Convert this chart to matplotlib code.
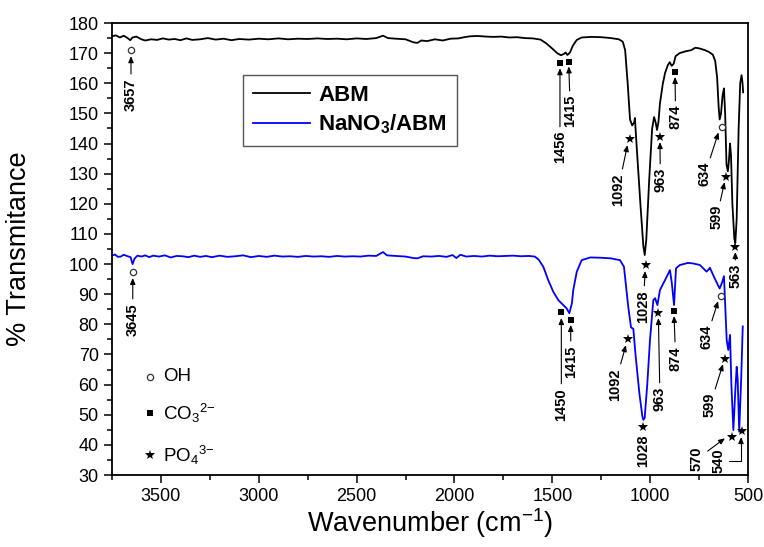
import numpy as np
import matplotlib.pyplot as plt
from matplotlib.ticker import MultipleLocator

plt.rcParams['font.family'] = ['Liberation Sans', 'DejaVu Sans']
plt.rcParams['mathtext.fontset'] = 'custom'
plt.rcParams['mathtext.rm'] = 'Liberation Sans'
plt.rcParams['mathtext.it'] = 'Liberation Sans:italic'
plt.rcParams['mathtext.bf'] = 'Liberation Sans:bold'

# ==== FTIR spectrum of ABM ====
abm_wn = [3750, 3730, 3710, 3690, 3670, 3657, 3645, 3625, 3600, 3580, 3550, 3520,
          3490, 3460, 3430, 3400, 3370, 3340, 3300, 3260, 3220, 3180, 3140, 3100,
          3050, 3000, 2950, 2900, 2850, 2800, 2750, 2700, 2650, 2600, 2550, 2500,
          2450, 2400, 2365, 2340, 2300, 2250, 2210, 2190, 2170, 2140, 2100, 2060,
          2020, 1980, 1950, 1920, 1880, 1840, 1800, 1760, 1720, 1680, 1640, 1600,
          1560, 1530, 1500, 1475, 1456, 1440, 1432, 1423, 1410, 1395, 1375, 1350,
          1300, 1250, 1200, 1160, 1140, 1128, 1115, 1103, 1092, 1082, 1078, 1070,
          1050, 1035, 1028, 1020, 1005, 990, 980, 972, 965, 958, 950, 935, 924,
          910, 900, 890, 880, 870, 850, 820, 790, 770, 750, 720, 700, 680, 668,
          658, 650, 645, 638, 630, 623, 617, 610, 603, 598, 592, 587, 580, 570,
          565, 558, 548, 540, 533, 528, 525]
abm_t = [175.6, 175.9, 175.2, 175.8, 175.0, 174.3, 175.2, 175.5, 174.6, 174.2, 174.6, 174.4,
         174.9, 174.5, 174.7, 174.3, 174.9, 174.4, 174.6, 175.0, 174.5, 174.8, 174.3, 174.7,
         174.5, 174.8, 174.6, 174.9, 174.6, 174.8, 174.7, 174.9, 174.7, 174.8, 174.6, 174.9,
         174.7, 175.0, 175.8, 175.0, 174.8, 174.6, 173.6, 173.4, 174.2, 174.0, 174.6, 174.2,
         174.8, 174.9, 175.3, 175.6, 175.7, 175.5, 175.4, 175.5, 175.2, 175.3, 175.0, 174.9,
         174.5, 173.2, 171.5, 170.0, 169.3, 169.8, 170.2, 169.4, 170.2, 172.5, 174.4, 175.2,
         175.4, 175.3, 175.0, 174.6, 173.8, 171.0, 160.0, 148.0, 146.0, 147.0, 148.5, 140.0,
         120.0, 106.0, 103.0, 108.0, 128.0, 145.0, 148.8, 147.0, 144.5, 147.0, 153.4, 160.0, 163.4,
         166.0, 167.0, 165.8, 166.5, 169.0, 170.0, 170.6, 171.0, 171.8, 171.6, 171.0, 170.4, 169.5, 167.5,
         162.0, 152.0, 148.0, 150.0, 156.0, 158.3, 150.0, 133.0, 130.8, 134.0, 140.0, 136.0, 120.0, 108.5,
         107.0, 115.0, 145.0, 160.0, 162.7, 160.0, 157.0]

# ==== FTIR spectrum of NaNO3/ABM ====
nano3_wn = [3750, 3735, 3720, 3705, 3690, 3670, 3655, 3645, 3635, 3620, 3600, 3580,
            3560, 3540, 3510, 3480, 3450, 3420, 3390, 3360, 3330, 3300, 3270, 3240,
            3200, 3160, 3120, 3080, 3040, 3000, 2960, 2920, 2880, 2840, 2800, 2760,
            2720, 2680, 2640, 2600, 2560, 2520, 2480, 2440, 2400, 2365, 2345, 2300,
            2250, 2210, 2190, 2160, 2120, 2080, 2040, 2010, 1990, 1970, 1940, 1900,
            1860, 1820, 1780, 1740, 1700, 1660, 1620, 1590, 1570, 1546, 1521, 1495,
            1469, 1444, 1427, 1413, 1400, 1393, 1375, 1350, 1307, 1250, 1200, 1154,
            1134, 1112, 1098, 1086, 1075, 1055, 1040, 1035, 1028, 1015, 1001, 984,
            975, 963, 950, 924, 899, 890, 878, 868, 848, 806, 780, 746, 712, 700,
            695, 670, 645, 632, 623, 609, 601, 592, 585, 575, 565, 558, 553, 545,
            535, 527]
nano3_t = [102.8, 103.2, 102.4, 102.5, 103.1, 102.6, 102.3, 100.0, 101.8, 102.8, 102.5, 102.9,
           102.3, 102.8, 102.5, 102.9, 102.2, 102.7, 102.6, 102.3, 102.8, 102.4, 102.7, 102.3,
           102.8, 102.4, 102.6, 102.9, 102.3, 102.7, 102.4, 102.8, 102.5, 102.6, 102.4, 102.7,
           102.5, 102.6, 102.4, 102.7, 102.5, 102.6, 102.5, 102.8, 102.7, 104.0, 102.9, 102.7,
           102.5, 102.0, 101.9, 102.6, 102.5, 102.7, 102.4, 103.0, 102.0, 103.1, 102.5, 102.7,
           102.5, 102.8, 102.6, 102.7, 102.8, 102.6, 102.7, 102.5, 101.5, 99.1, 94.7, 90.8,
           88.0, 86.4, 85.3, 83.7, 87.0, 91.4, 97.5, 101.3, 102.2, 102.1, 101.9, 101.3,
           99.1, 85.8, 79.0, 78.5, 70.0, 57.0, 49.5, 48.3, 49.0, 60.0, 74.8, 88.0,
           88.7, 86.4, 91.4, 94.7, 98.0, 94.0, 86.4, 98.6, 99.7, 100.4, 100.2, 99.7, 97.5, 98.3,
           98.8, 95.2, 91.9, 94.0, 96.0, 74.8, 71.5, 76.5, 60.0, 44.9, 58.0, 65.9, 62.0, 44.4,
           62.0, 79.3]

# ==== band labels: text, group symbol, marker (x, y), arrow head (x, y), text (x, top y) ====
abm_bands = [
    ('3657', 'o', (3653, 171.0), (3653, 169.0), (3653, 161.7)),
    ('1456', 's', (1461, 166.6), (1461, 165.0), (1461, 144.2)),
    ('1415', 's', (1413, 167.2), (1416, 165.6), (1408, 156.1)),
    ('1092', '*', (1103, 141.4), (1116, 139.5), (1164, 130.2)),
    ('963', '*', (950, 142.3), (950, 140.5), (948, 131.9)),
    ('874', 's', (873, 163.8), (873, 162.1), (870, 152.8)),
    ('634', 'o', (635, 145.4), (651, 143.7), (720, 133.9)),
    ('599', '*', (612, 129.0), (620, 127.2), (660, 119.6)),
    ('563', '*', (565, 105.8), (565, 104.0), (565, 100.0)),
    ('1028', '*', (1021, 99.7), (1026, 97.7), (1035, 91.4)),
]
nano3_bands = [
    ('3645', 'o', (3644, 97.3), (3644, 95.4), (3644, 87.1)),
    ('1450', 's', (1454, 84.2), (1454, 82.1), (1454, 58.9)),
    ('1415', 's', (1406, 81.4), (1406, 79.8), (1406, 73.1)),
    ('1092', '*', (1112, 75.1), (1124, 73.1), (1180, 65.5)),
    ('963', '*', (958, 83.8), (958, 82.1), (950, 59.2)),
    ('874', 's', (878, 84.4), (878, 82.8), (870, 72.8)),
    ('634', 'o', (640, 89.4), (653, 87.7), (711, 79.8)),
    ('599', '*', (618, 68.5), (628, 66.8), (694, 57.2)),
    ('1028', '*', (1035, 46.0), None, (1035, 43.6)),
    ('570', '*', (583, 42.7), (618, 42.2), (762, 39.3)),
    ('540', '*', (532, 44.7), (536, 42.6), (652, 38.9)),
]

sym_style = {
    'o': dict(marker='o', ms=4.5, mfc='white', mec='#333333', mew=0.9),
    's': dict(marker='s', ms=3.8, mfc='black', mec='black', mew=0),
    '*': dict(marker='*', ms=7.5, mfc='black', mec='black', mew=0),
}


def label_band(ax, text, sym, mxy, hxy, txy):
    ax.plot(mxy[0], mxy[1], ls='none', zorder=5, **sym_style[sym])
    if hxy is None:
        ax.text(txy[0], txy[1], text, rotation=90, ha='center', va='top',
                fontsize=10.5, fontweight='bold')
        return
    conn = 'arc3'
    if text == '540':
        conn = 'angle,angleA=0,angleB=90,rad=0'
    ax.annotate(text, xy=hxy, xytext=txy, rotation=90, ha='center', va='top',
                fontsize=10.5, fontweight='bold',
                arrowprops=dict(arrowstyle='-|>,head_length=0.35,head_width=0.15',
                                color='black', lw=0.8, shrinkA=1, shrinkB=0,
                                connectionstyle=conn))


fig = plt.figure(figsize=(7.64, 5.47), dpi=100)
ax = fig.add_axes([0.1466, 0.1316, 0.8325, 0.8263])

l1, = ax.plot(abm_wn, abm_t, color='black', lw=1.3, label='ABM')
l2, = ax.plot(nano3_wn, nano3_t, color='#0000ff', lw=1.3, label=r'NaNO$_\mathbf{3}$/ABM')

for b in abm_bands + nano3_bands:
    label_band(ax, *b)

ax.set_xlim(3750, 500)
ax.set_ylim(30, 180)
ax.xaxis.set_major_locator(MultipleLocator(500))
ax.xaxis.set_minor_locator(MultipleLocator(250))
ax.yaxis.set_major_locator(MultipleLocator(10))
ax.yaxis.set_minor_locator(MultipleLocator(5))
ax.tick_params(which='both', direction='out', top=False, right=False, width=1.1, labelsize=13)
ax.tick_params(which='major', length=6)
ax.tick_params(which='minor', length=3.5)
for s in ax.spines.values():
    s.set_linewidth(1.3)

ax.set_xlabel(r'Wavenumber (cm$^{-1}$)', fontsize=19.5)
ax.set_ylabel('% Transmitance', fontsize=19.5)
ax.xaxis.set_label_coords(0.5, -0.07)
ax.yaxis.set_label_coords(-0.126, 0.5)

leg = ax.legend(handles=[l1, l2], loc='upper left', bbox_to_anchor=(0.2055, 0.885),
                borderaxespad=0, fancybox=False, edgecolor='#555555', framealpha=1,
                prop={'weight': 'bold', 'size': 16}, handlelength=2.6,
                handletextpad=0.35, labelspacing=0.3, borderpad=0.45)
leg.get_frame().set_linewidth(1.0)

# functional group key
key_syms = ['o', 's', '*']
key_text = ['OH', r'CO$_3$$^{2\mathrm{-}}$', r'PO$_4$$^{3\mathrm{-}}$']
key_y = [0.2175, 0.1365, 0.0442]
for sym, txt, y in zip(key_syms, key_text, key_y):
    ax.plot(0.0605, y, transform=ax.transAxes, ls='none', **sym_style[sym])
    ax.text(0.08, y, txt, transform=ax.transAxes, fontsize=13.5, va='center')

plt.savefig('out.png', dpi=100)
